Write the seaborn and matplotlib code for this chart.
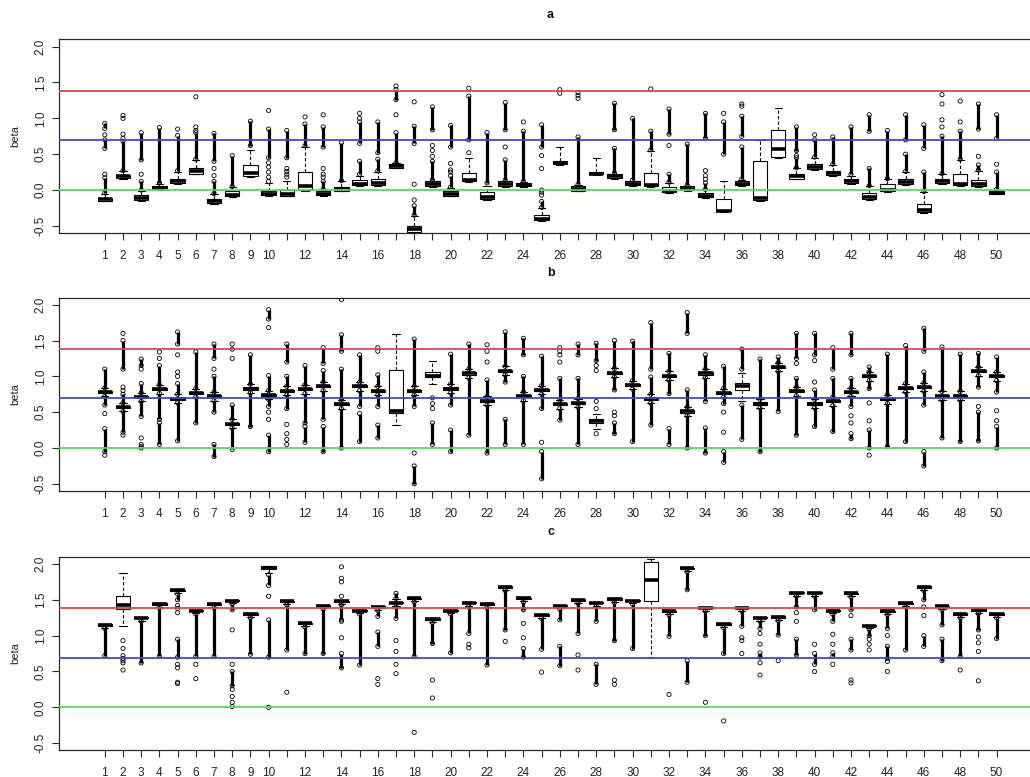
import matplotlib
matplotlib.use("Agg")
import matplotlib.pyplot as plt
import numpy as np
import pandas as pd
import seaborn as sns

# ---------------------------------------------------------------- data
boxes = list(range(1, 51))
tick_labels = [str(k) if (k <= 10 or k % 2 == 0) else "" for k in boxes]
y_ticks = [-0.5, 0.0, 0.5, 1.0, 1.5, 2.0]
y_tick_labels = ["-0.5", "0.0", "0.5", "1.0", "1.5", "2.0"]

# horizontal reference levels: 0, ln 2, ln 4
ref_levels = [0.0, 0.693, 1.386]
ref_colors = ["#5fd35f", "#4646c0", "#d04c4c"]

# ---- panel a: five-number summaries per box
a_lo = [-0.16, 0.16, -0.15, 0.00, 0.09, 0.22, -0.19, -0.10, 0.18, -0.08,
        -0.09, -0.01, -0.08, -0.02, 0.06, 0.06, 0.30, -0.60, 0.04, -0.09,
        0.11, -0.14, 0.04, 0.04, -0.43, 0.35, -0.02, 0.21, 0.16, 0.06,
        0.04, -0.04, -0.01, -0.11, -0.31, 0.055, -0.15, 0.45, 0.15, 0.28,
        0.20, 0.09, -0.14, -0.03, 0.07, -0.32, 0.09, 0.06, 0.04, -0.06]
a_q1 = [-0.15, 0.17, -0.14, 0.01, 0.10, 0.23, -0.18, -0.09, 0.19, -0.07,
        -0.08, 0.00, -0.07, -0.01, 0.07, 0.07, 0.31, -0.59, 0.05, -0.08,
        0.12, -0.13, 0.05, 0.05, -0.42, 0.36, -0.01, 0.22, 0.17, 0.07,
        0.05, -0.03, 0.00, -0.10, -0.30, 0.065, -0.14, 0.46, 0.16, 0.29,
        0.21, 0.10, -0.13, -0.02, 0.08, -0.31, 0.10, 0.07, 0.05, -0.05]
a_med = [-0.13, 0.19, -0.11, 0.03, 0.12, 0.26, -0.16, -0.07, 0.24, -0.06,
         -0.05, 0.06, -0.05, 0.01, 0.09, 0.10, 0.33, -0.55, 0.08, -0.06,
         0.14, -0.10, 0.08, 0.07, -0.40, 0.38, 0.02, 0.23, 0.20, 0.09,
         0.07, -0.02, 0.02, -0.08, -0.29, 0.09, -0.11, 0.57, 0.19, 0.32,
         0.24, 0.12, -0.10, 0.00, 0.11, -0.28, 0.12, 0.09, 0.08, -0.04]
a_q3 = [-0.11, 0.21, -0.07, 0.06, 0.16, 0.31, -0.13, -0.02, 0.35, -0.01,
        0.00, 0.25, -0.02, 0.04, 0.14, 0.16, 0.36, -0.50, 0.12, -0.01,
        0.24, -0.03, 0.12, 0.10, -0.35, 0.40, 0.06, 0.25, 0.22, 0.12,
        0.24, 0.04, 0.05, -0.04, -0.12, 0.13, 0.41, 0.84, 0.23, 0.36,
        0.27, 0.16, -0.04, 0.08, 0.15, -0.19, 0.15, 0.22, 0.14, -0.01]
a_hi = [-0.05, 0.26, -0.01, 0.09, 0.25, 0.42, -0.06, 0.04, 0.56, 0.10,
        0.13, 0.60, 0.00, 0.12, 0.20, 0.25, 0.37, -0.36, 0.13, 0.03,
        0.45, 0.05, 0.13, 0.11, -0.25, 0.60, 0.07, 0.44, 0.23, 0.13,
        0.55, 0.10, 0.06, 0.00, 0.13, 0.14, 0.70, 1.15, 0.30, 0.45,
        0.35, 0.20, 0.05, 0.15, 0.25, -0.03, 0.22, 0.42, 0.27, 0.00]
# dense stacks of outliers: (box, from, to)
a_runs = [(1, -0.04, 0.17), (1, 0.58, 0.70), (1, 0.86, 0.93), (2, 0.27, 0.68),
          (3, 0.00, 0.12), (3, 0.42, 0.80), (4, 0.10, 0.87), (5, 0.27, 0.76),
          (6, 0.43, 0.80), (7, -0.05, 0.12), (7, 0.40, 0.79), (8, 0.05, 0.48),
          (9, 0.62, 0.96), (10, 0.45, 0.85), (11, 0.45, 0.83), (12, 0.62, 0.92),
          (13, 0.01, 0.12), (13, 0.60, 0.88), (14, 0.13, 0.66), (15, 0.22, 0.40),
          (15, 0.65, 0.95), (16, 0.27, 0.43), (16, 0.52, 0.95), (17, 0.38, 0.80),
          (17, 1.26, 1.40), (18, -0.35, -0.22), (18, 0.65, 0.89), (19, 0.14, 0.40),
          (19, 0.84, 1.16), (20, 0.04, 0.20), (20, 0.60, 0.90), (21, 0.70, 1.31),
          (22, 0.10, 0.80), (23, 0.14, 0.42), (23, 0.84, 1.22), (24, 0.12, 0.82),
          (25, -0.24, -0.16), (25, 0.60, 0.91), (27, 0.08, 0.74), (29, 0.24, 0.58),
          (29, 0.84, 1.21), (30, 0.14, 1.00), (31, 0.56, 0.82), (32, 0.11, 0.22),
          (32, 0.78, 1.13), (33, 0.07, 0.64), (34, 0.01, 0.10), (34, 0.72, 1.07),
          (35, 0.50, 0.95), (36, 0.15, 0.60), (36, 0.75, 1.03), (39, 0.31, 0.45),
          (39, 0.55, 0.88), (40, 0.46, 0.70), (41, 0.36, 0.74), (42, 0.22, 0.88),
          (43, 0.06, 0.30), (43, 0.82, 1.05), (44, 0.16, 0.83), (45, 0.26, 0.50),
          (45, 0.70, 1.05), (46, -0.02, 0.25), (46, 0.58, 0.91), (47, 0.23, 0.75),
          (48, 0.43, 0.82), (49, 0.28, 0.35), (49, 0.85, 1.20), (50, 0.01, 0.25),
          (50, 0.72, 1.05)]
# isolated outliers: (box, value)
a_pts = [(1, 0.22), (1, 0.77), (2, 0.72), (2, 0.78), (2, 1.00), (2, 1.04),
         (3, 0.22), (5, 0.85), (6, 0.83), (6, 0.88), (6, 1.30), (7, 0.20),
         (7, 0.30), (10, 0.12), (10, 0.18), (10, 0.25), (10, 0.32), (10, 0.38),
         (10, 1.11), (11, 0.18), (11, 0.22), (11, 0.26), (11, 0.30), (12, 1.02),
         (13, 0.18), (13, 0.22), (13, 0.30), (13, 1.05), (15, 1.00), (15, 1.07),
         (17, 1.05), (17, 1.45), (18, -0.14), (18, 0.08), (18, 1.23), (19, 0.47),
         (19, 0.55), (19, 0.62), (20, 0.25), (20, 0.28), (20, 0.37), (21, 0.52),
         (21, 1.42), (23, 0.60), (24, 0.95), (25, -0.07), (25, -0.03), (25, 0.00),
         (25, 0.30), (25, 0.48), (26, 1.35), (26, 1.40), (27, 1.28), (27, 1.32),
         (27, 1.36), (31, 1.41), (32, 0.62), (34, 0.15), (34, 0.20), (34, 0.27),
         (35, 1.07), (36, 1.17), (36, 1.20), (39, 0.48), (40, 0.77), (47, 0.88),
         (47, 0.98), (47, 1.20), (47, 1.33), (48, 0.95), (48, 1.24), (49, 0.47),
         (50, 0.36)]

# ---- panel b
b_lo = [0.72, 0.51, 0.65, 0.76, 0.63, 0.71, 0.66, 0.28, 0.77, 0.68,
        0.74, 0.76, 0.80, 0.55, 0.80, 0.74, 0.32, 0.74, 0.90, 0.77,
        0.98, 0.60, 1.02, 0.66, 0.75, 0.55, 0.57, 0.27, 0.99, 0.82,
        0.63, 0.95, 0.45, 0.98, 0.71, 0.66, 0.56, 1.07, 0.73, 0.56,
        0.59, 0.72, 0.94, 0.62, 0.78, 0.79, 0.67, 0.67, 1.01, 0.94]
b_q1 = [0.765, 0.555, 0.695, 0.805, 0.675, 0.755, 0.705, 0.325, 0.815, 0.72,
        0.785, 0.805, 0.845, 0.595, 0.845, 0.785, 0.49, 0.785, 0.99, 0.815,
        1.025, 0.645, 1.065, 0.705, 0.795, 0.595, 0.615, 0.35, 1.035, 0.865,
        0.675, 0.995, 0.495, 1.025, 0.755, 0.81, 0.605, 1.115, 0.775, 0.605,
        0.635, 0.765, 0.985, 0.665, 0.825, 0.835, 0.715, 0.715, 1.055, 0.985]
b_med = [0.78, 0.57, 0.71, 0.82, 0.69, 0.77, 0.72, 0.34, 0.83, 0.74,
         0.80, 0.82, 0.86, 0.61, 0.86, 0.80, 0.51, 0.80, 1.01, 0.83,
         1.04, 0.66, 1.08, 0.72, 0.81, 0.61, 0.63, 0.37, 1.05, 0.88,
         0.69, 1.01, 0.51, 1.04, 0.77, 0.86, 0.62, 1.13, 0.79, 0.62,
         0.65, 0.78, 1.00, 0.68, 0.84, 0.85, 0.73, 0.73, 1.07, 1.00]
b_q3 = [0.795, 0.585, 0.725, 0.835, 0.705, 0.785, 0.735, 0.355, 0.845, 0.76,
        0.815, 0.835, 0.875, 0.625, 0.875, 0.815, 1.09, 0.815, 1.06, 0.845,
        1.055, 0.675, 1.095, 0.735, 0.825, 0.625, 0.645, 0.40, 1.065, 0.895,
        0.705, 1.025, 0.525, 1.055, 0.785, 0.91, 0.635, 1.145, 0.805, 0.635,
        0.665, 0.795, 1.015, 0.695, 0.855, 0.865, 0.745, 0.745, 1.085, 1.015]
b_hi = [0.84, 0.63, 0.77, 0.88, 0.75, 0.83, 0.78, 0.40, 0.89, 0.80,
        0.86, 0.88, 0.92, 0.67, 0.92, 0.86, 1.59, 0.86, 1.22, 0.89,
        1.10, 0.72, 1.14, 0.78, 0.87, 0.67, 0.69, 0.48, 1.11, 0.94,
        0.75, 1.07, 0.57, 1.10, 0.83, 1.05, 0.68, 1.19, 0.85, 0.68,
        0.71, 0.84, 1.06, 0.74, 0.90, 0.91, 0.79, 0.79, 1.13, 1.06]
b_runs = [(1, 0.60, 0.72), (1, 0.84, 1.10), (1, -0.05, 0.27), (2, 0.22, 0.51),
          (2, 0.63, 0.75), (2, 1.10, 1.50), (3, 0.44, 0.65), (3, 0.77, 0.90),
          (3, 1.15, 1.24), (4, 0.40, 0.76), (4, 0.88, 1.15), (4, 0.05, 0.35),
          (5, 0.10, 0.63), (5, 0.75, 0.90), (5, 1.45, 1.62), (6, 0.35, 0.71),
          (6, 0.83, 1.34), (7, 0.50, 0.66), (7, 0.78, 1.00), (7, 1.25, 1.45),
          (7, -0.12, 0.05), (8, -0.02, 0.28), (8, 0.40, 0.60), (9, 0.30, 0.77),
          (9, 0.89, 1.30), (10, 0.58, 0.68), (10, 0.80, 1.01), (10, -0.05, 0.18),
          (10, 1.80, 1.93), (11, 0.55, 0.74), (11, 0.86, 1.00), (11, 1.20, 1.45),
          (12, 0.35, 0.76), (12, 0.88, 1.15), (12, 0.08, 0.30), (13, 0.40, 0.80),
          (13, 0.92, 1.08), (13, 1.18, 1.40), (13, -0.05, 0.30), (14, 0.00, 0.55),
          (14, 0.67, 1.10), (14, 1.35, 1.58), (15, 0.58, 0.80), (15, 0.92, 1.30),
          (15, 0.09, 0.48), (16, 0.58, 0.74), (16, 0.86, 1.02), (16, 0.14, 0.32),
          (18, 0.58, 0.74), (18, 0.86, 1.52), (18, -0.50, -0.25), (19, 0.05, 0.35),
          (20, 0.60, 0.77), (20, 0.89, 1.31), (20, -0.05, 0.25), (21, 0.18, 0.98),
          (21, 1.10, 1.45), (22, -0.07, 0.60), (22, 0.72, 0.95), (23, 0.92, 1.02),
          (23, 1.14, 1.62), (23, 0.05, 0.40), (24, 0.05, 0.66), (24, 0.78, 1.00),
          (24, 1.30, 1.53), (25, 0.55, 0.75), (25, 0.87, 1.28), (25, -0.43, -0.05),
          (26, 0.39, 0.55), (26, 0.67, 0.97), (27, 0.05, 0.57), (27, 0.69, 0.97),
          (27, 1.30, 1.45), (28, 1.22, 1.46), (29, 0.81, 0.99), (29, 1.11, 1.50),
          (29, 0.20, 0.35), (30, 0.09, 0.82), (30, 0.94, 1.49), (31, 0.32, 0.63),
          (31, 0.75, 0.99), (31, 1.10, 1.75), (32, 0.76, 0.95), (32, 1.07, 1.32),
          (32, 0.05, 0.27), (33, 0.00, 0.45), (33, 0.57, 0.81), (33, 1.60, 1.89),
          (34, 0.65, 0.98), (34, 1.10, 1.30), (34, -0.07, 0.28), (35, 0.62, 0.71),
          (35, 0.83, 1.14), (35, -0.20, -0.05), (36, 0.12, 0.60), (36, 1.10, 1.38),
          (37, -0.05, 0.56), (37, 0.68, 1.24), (38, 0.51, 1.07), (38, 1.19, 1.27),
          (39, 0.18, 0.73), (39, 0.85, 0.97), (39, 1.25, 1.60), (40, 0.30, 0.56),
          (40, 0.68, 0.81), (40, 1.30, 1.60), (41, 0.23, 0.59), (41, 0.71, 0.97),
          (41, 1.10, 1.40), (42, 0.58, 0.72), (42, 0.84, 0.97), (42, 1.30, 1.60),
          (42, 0.13, 0.20), (43, 0.83, 0.94), (43, 1.06, 1.13), (43, 0.00, 0.25),
          (44, 0.02, 0.62), (44, 0.74, 1.31), (45, 0.09, 0.78), (45, 0.90, 1.43),
          (46, 0.60, 0.79), (46, 0.91, 1.06), (46, 1.35, 1.67), (46, -0.25, -0.05),
          (47, 0.14, 0.67), (47, 0.79, 1.41), (48, 0.09, 0.67), (48, 0.79, 1.31),
          (49, 0.85, 1.01), (49, 1.13, 1.32), (49, 0.10, 0.50), (50, 0.78, 0.94),
          (50, 1.06, 1.27), (50, 0.00, 0.30)]
b_pts = [(1, 0.48), (1, -0.10), (2, 0.80), (2, 0.85), (2, 0.18), (2, 1.60),
         (3, 1.10), (3, 0.14), (3, 0.05), (3, 0.02), (3, 0.00), (4, 1.25),
         (4, 1.34), (5, 1.00), (5, 1.06), (5, 1.30), (7, 1.10), (8, 1.25),
         (8, 1.38), (8, 1.45), (10, 0.50), (10, 0.40), (10, 1.68), (11, 0.33),
         (11, 0.20), (11, 0.12), (11, 0.05), (14, 2.07), (16, 1.35), (16, 1.40),
         (18, -0.07), (19, 0.55), (19, 0.62), (19, 0.70), (22, 1.20), (22, 1.35),
         (22, 1.44), (25, 0.08), (26, 1.20), (26, 1.30), (26, 1.35), (26, 1.40),
         (28, 0.20), (28, 0.55), (28, 0.65), (28, 1.08), (28, 1.15), (29, 0.45),
         (29, 0.50), (35, 0.50), (35, 0.22), (39, 1.18), (40, 0.92), (40, 1.22),
         (42, 0.45), (42, 0.35), (43, 0.63), (43, 0.38), (43, -0.10), (49, 0.58),
         (50, 0.38), (50, 0.52)]

# ---- panel c
c_lo = [1.11, 1.13, 1.21, 1.40, 1.59, 1.31, 1.40, 1.45, 1.26, 1.87,
        1.44, 1.13, 1.38, 1.44, 1.31, 1.36, 1.41, 1.48, 1.19, 1.31,
        1.42, 1.40, 1.64, 1.48, 1.25, 1.38, 1.46, 1.42, 1.47, 1.45,
        0.70, 1.30, 1.90, 1.35, 1.12, 1.35, 1.21, 1.22, 1.56, 1.56,
        1.31, 1.55, 1.10, 1.30, 1.41, 1.64, 1.37, 1.26, 1.32, 1.26]
c_q1 = [1.14, 1.37, 1.24, 1.43, 1.62, 1.34, 1.43, 1.48, 1.29, 1.93,
        1.47, 1.16, 1.41, 1.47, 1.34, 1.39, 1.45, 1.51, 1.22, 1.34,
        1.45, 1.43, 1.67, 1.51, 1.28, 1.41, 1.49, 1.45, 1.50, 1.48,
        1.49, 1.33, 1.93, 1.38, 1.15, 1.38, 1.24, 1.25, 1.59, 1.59,
        1.34, 1.58, 1.13, 1.33, 1.44, 1.67, 1.40, 1.29, 1.35, 1.29]
c_med = [1.15, 1.43, 1.25, 1.44, 1.63, 1.35, 1.44, 1.49, 1.30, 1.95,
         1.48, 1.17, 1.42, 1.48, 1.35, 1.40, 1.46, 1.52, 1.23, 1.35,
         1.46, 1.44, 1.68, 1.52, 1.29, 1.42, 1.50, 1.46, 1.51, 1.49,
         1.78, 1.34, 1.94, 1.39, 1.16, 1.39, 1.25, 1.26, 1.60, 1.60,
         1.35, 1.59, 1.14, 1.34, 1.45, 1.68, 1.41, 1.30, 1.36, 1.30]
c_q3 = [1.16, 1.55, 1.26, 1.45, 1.64, 1.36, 1.45, 1.50, 1.31, 1.97,
        1.49, 1.18, 1.43, 1.49, 1.36, 1.41, 1.47, 1.53, 1.24, 1.36,
        1.47, 1.45, 1.69, 1.53, 1.30, 1.43, 1.51, 1.47, 1.52, 1.50,
        2.03, 1.35, 1.95, 1.40, 1.17, 1.40, 1.26, 1.27, 1.61, 1.61,
        1.36, 1.60, 1.15, 1.35, 1.46, 1.69, 1.42, 1.31, 1.37, 1.31]
c_hi = [1.16, 1.87, 1.26, 1.45, 1.64, 1.36, 1.45, 1.50, 1.31, 1.97,
        1.49, 1.18, 1.43, 1.49, 1.36, 1.41, 1.51, 1.53, 1.24, 1.36,
        1.47, 1.45, 1.69, 1.53, 1.30, 1.43, 1.51, 1.47, 1.52, 1.50,
        2.07, 1.35, 1.95, 1.40, 1.17, 1.40, 1.26, 1.27, 1.61, 1.61,
        1.36, 1.60, 1.15, 1.35, 1.46, 1.69, 1.42, 1.31, 1.37, 1.31]
c_runs = [(1, 0.72, 1.10), (3, 0.62, 1.20), (4, 0.71, 1.39), (5, 1.50, 1.58),
          (5, 0.70, 0.95), (6, 0.71, 1.30), (7, 0.71, 1.39), (8, 1.36, 1.44),
          (8, 0.30, 0.50), (9, 0.74, 1.25), (10, 0.70, 1.22), (10, 1.70, 1.85),
          (11, 0.80, 1.43), (12, 0.75, 1.12), (13, 0.75, 1.37), (14, 1.22, 1.43),
          (14, 0.55, 0.75), (15, 0.59, 1.30), (16, 1.27, 1.35), (16, 0.85, 1.05),
          (17, 1.52, 1.59), (17, 1.24, 1.40), (18, 0.71, 1.47), (19, 0.89, 1.18),
          (20, 0.76, 1.30), (21, 1.03, 1.41), (22, 0.59, 1.39), (23, 1.08, 1.63),
          (24, 1.36, 1.47), (24, 0.70, 0.82), (25, 0.81, 1.24), (26, 1.22, 1.37),
          (26, 0.58, 0.85), (27, 1.03, 1.45), (28, 1.20, 1.41), (28, 0.32, 0.60),
          (29, 0.93, 1.46), (30, 0.82, 1.44), (32, 0.99, 1.29), (33, 1.64, 1.89),
          (33, 0.35, 0.65), (34, 1.00, 1.34), (35, 0.75, 1.11), (36, 1.13, 1.34),
          (37, 1.10, 1.20), (37, 0.70, 0.76), (38, 1.01, 1.21), (39, 1.40, 1.55),
          (39, 0.73, 0.95), (40, 1.36, 1.55), (40, 0.60, 0.75), (41, 1.20, 1.30),
          (41, 0.71, 0.76), (42, 1.36, 1.54), (42, 0.80, 0.95), (43, 1.00, 1.09),
          (44, 1.10, 1.29), (44, 0.68, 0.85), (45, 0.80, 1.40), (46, 1.50, 1.63),
          (46, 0.85, 1.00), (47, 1.15, 1.36), (47, 0.65, 0.95), (48, 0.71, 1.25),
          (49, 1.08, 1.31), (50, 0.96, 1.25)]
c_pts = [(2, 0.93), (2, 0.82), (2, 0.72), (2, 0.68), (2, 0.65), (2, 0.62),
         (2, 0.52), (5, 1.42), (5, 1.38), (5, 1.32), (5, 0.60), (5, 0.55),
         (5, 0.35), (5, 0.33), (6, 0.60), (6, 0.40), (8, 1.08), (8, 0.60),
         (8, 0.25), (8, 0.15), (8, 0.07), (8, 0.01), (10, 1.55), (10, 0.00),
         (11, 0.21), (14, 1.96), (14, 1.80), (14, 1.75), (14, 1.55), (14, 1.20),
         (14, 0.97), (16, 0.40), (16, 0.32), (17, 0.93), (17, 0.78), (17, 0.60),
         (17, 0.47), (18, -0.35), (19, 0.38), (19, 0.13), (21, 0.88), (21, 0.83),
         (23, 0.92), (24, 1.17), (24, 0.97), (25, 0.49), (27, 0.73), (27, 0.52),
         (29, 0.38), (29, 0.32), (32, 0.18), (34, 0.07), (35, -0.19), (36, 0.97),
         (36, 0.93), (36, 0.75), (37, 1.03), (37, 0.88), (37, 0.62), (37, 0.45),
         (38, 0.65), (39, 1.32), (39, 1.20), (40, 0.88), (40, 0.50), (41, 1.02),
         (41, 0.88), (41, 0.60), (42, 1.28), (42, 0.38), (42, 0.34), (43, 0.95),
         (43, 0.88), (43, 0.80), (44, 1.00), (44, 0.64), (44, 0.50), (46, 1.40),
         (46, 1.28), (48, 0.52), (49, 0.98), (49, 0.90), (49, 0.78), (49, 0.37)]

# ---------------------------------------------------------------- style
sns.set_theme(style="white")
plt.rcParams["font.family"] = ["Liberation Sans", "DejaVu Sans"]
EDGE = "#2a2a2a"

W, H = 1030, 777
fig = plt.figure(figsize=(W / 100, H / 100), dpi=100)

# axes frames in pixels: (left, top, right, bottom)
frames = [(59.3, 39.5, 1042.1, 233.0),
          (59.3, 297.5, 1042.1, 491.0),
          (59.3, 556.8, 1042.1, 750.3)]


def make_axes(frame):
    l, t, r, b = frame
    return fig.add_axes([l / W, 1 - b / H, (r - l) / W, (b - t) / H])


def summary_table(lo, q1, med, q3, hi):
    # five values per box whose quartiles and extremes are the summary itself
    rows = []
    for k, vals in zip(boxes, zip(lo, q1, med, q3, hi)):
        for v in vals:
            rows.append({"box": k, "beta": v})
    return pd.DataFrame(rows)


def draw_panel(ax, title, frame, lo, q1, med, q3, hi, runs, pts):
    df = summary_table(lo, q1, med, q3, hi)
    sns.boxplot(data=df, x="box", y="beta", native_scale=True,
                whis=(0, 100), showfliers=False, width=0.8,
                color="white", linecolor="black", linewidth=0.8,
                medianprops={"linewidth": 2.6},
                whiskerprops={"linestyle": (0, (3, 2))},
                ax=ax)

    # dense outlier stacks
    rx = [r[0] for r in runs]
    ax.vlines(rx, [r[1] for r in runs], [r[2] for r in runs],
              colors="black", linewidth=2.3, zorder=3)
    ends_x = rx + rx
    ends_y = [r[1] for r in runs] + [r[2] for r in runs]
    sns.scatterplot(x=ends_x, y=ends_y, ax=ax, marker="o", s=9,
                    facecolors="none", edgecolors="black", linewidths=0.6,
                    zorder=4, legend=False)
    # isolated outliers
    sns.scatterplot(x=[p[0] for p in pts], y=[p[1] for p in pts], ax=ax,
                    marker="o", s=9, facecolors="none", edgecolors="black",
                    linewidths=0.6, zorder=4, legend=False)

    for lvl, col in zip(ref_levels, ref_colors):
        ax.axhline(lvl, color=col, linewidth=1.3, zorder=5)

    ax.set_xlim(-1.5, 52.5)
    ax.set_ylim(-0.6, 2.1)
    ax.set_xticks(boxes)
    ax.set_xticklabels(tick_labels)
    ax.set_yticks(y_ticks)
    ax.set_yticklabels(y_tick_labels, rotation=90, va="center")
    ax.set_xlabel("")
    ax.set_ylabel("")
    ax.tick_params(axis="both", direction="out", length=5, width=0.8,
                   color=EDGE, labelsize=8.5, labelcolor="#222222",
                   bottom=True, left=True)
    ax.tick_params(axis="x", pad=7)
    ax.tick_params(axis="y", pad=4)
    for sp in ax.spines.values():
        sp.set_visible(True)
        sp.set_color(EDGE)
        sp.set_linewidth(0.9)

    l, t, r, b = frame
    fig.text(550.5 / W, 1 - (t - 25) / H, title, ha="center", va="center",
             fontsize=9, fontweight="bold", color="#111111")
    fig.text(15.7 / W, 1 - ((t + b) / 2) / H, "beta", rotation=90,
             ha="center", va="center", fontsize=8, color="#222222")


panels = [
    ("a", a_lo, a_q1, a_med, a_q3, a_hi, a_runs, a_pts),
    ("b", b_lo, b_q1, b_med, b_q3, b_hi, b_runs, b_pts),
    ("c", c_lo, c_q1, c_med, c_q3, c_hi, c_runs, c_pts),
]
for frame, (title, lo, q1, med, q3, hi, runs, pts) in zip(frames, panels):
    ax = make_axes(frame)
    draw_panel(ax, title, frame, lo, q1, med, q3, hi, runs, pts)

fig.savefig("out.png", dpi=100, facecolor="white")
